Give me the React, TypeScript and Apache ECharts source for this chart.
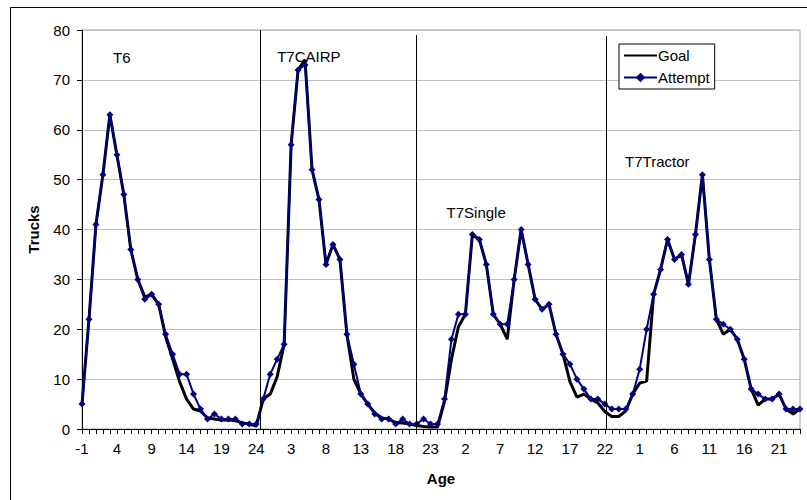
import React, { useEffect, useRef } from 'react';
import * as echarts from 'echarts';

// Each truck type covers ages -1 .. 24
const segments = ['T6', 'T7CAIRP', 'T7Single', 'T7Tractor'];
const ages = [-1, 0, 1, 2, 3, 4, 5, 6, 7, 8, 9, 10, 11, 12, 13, 14, 15, 16, 17, 18, 19, 20, 21, 22, 23, 24];

const goalT6 = [5, 22, 41, 51, 63, 55, 47, 36, 30, 26.5, 27, 25, 18.5, 14, 9.5, 6, 4, 3.6, 2.2, 2, 1.8, 1.8, 1.7, 1.2, 1, 0.6];
const attemptT6 = [5, 22, 41, 51, 63, 55, 47, 36, 30, 26, 27, 25, 19, 15, 11, 11, 7, 4, 2, 3, 2, 2, 2, 1, 1, 1];

const goalT7CAIRP = [6, 7, 10.5, 17, 57, 72, 74, 52, 46, 33, 37, 34, 19, 10, 7, 5, 3.2, 2.2, 2, 1.3, 1.2, 1, 0.7, 0.5, 0.4, 0.4];
const attemptT7CAIRP = [6, 11, 14, 17, 57, 72, 73, 52, 46, 33, 37, 34, 19, 13, 7, 5, 3, 2, 2, 1, 2, 1, 1, 2, 1, 1];

const goalT7Single = [5.5, 14, 20.5, 23, 39, 38, 33, 23, 21, 18, 30, 40, 33, 26, 24, 25, 19, 15, 9.5, 6.4, 7, 6, 5.2, 3.5, 2.5, 2.5];
const attemptT7Single = [6, 18, 23, 23, 39, 38, 33, 23, 21, 21, 30, 40, 33, 26, 24, 25, 19, 15, 13, 10, 8, 6, 6, 5, 4, 4];

const goalT7Tractor = [3.6, 7, 9.2, 9.6, 27, 32, 38, 34, 35, 29, 39, 51, 34, 22, 19, 20, 18, 14, 8, 4.8, 6, 6, 7, 4, 3, 4];
const attemptT7Tractor = [4, 7, 12, 20, 27, 32, 38, 34, 35, 29, 39, 51, 34, 22, 21, 20, 18, 14, 8, 7, 6, 6, 7, 4, 4, 4];

// Hand-drawn divider lines (position in category index units, top value)
const dividerX = [25.6, 48.0, 75.2];
const dividerTop = [80, 79, 78.8];

// Segment title annotations (left index, centre value)
const titleX = [4.45, 28.0, 52.3, 77.9];
const titleY = [74.4, 74.6, 43.5, 53.6];

const FONT = '"Liberation Sans", Arial, sans-serif';

const goal = [...goalT6, ...goalT7CAIRP, ...goalT7Single, ...goalT7Tractor];
const attempt = [...attemptT6, ...attemptT7CAIRP, ...attemptT7Single, ...attemptT7Tractor];
const N = goal.length;

export default function App() {
  const ref = useRef<HTMLDivElement>(null);

  useEffect(() => {
    if (!ref.current) return;
    const chart = echarts.init(ref.current, null, { renderer: 'svg' });
    const option: any = {
      animation: false,
      backgroundColor: '#fff',
      textStyle: { fontFamily: FONT },
      grid: {
        left: 82,
        right: 7,
        top: 30,
        bottom: 71,
        show: true,
        borderColor: '#a0a0a0',
        borderWidth: 1,
        backgroundColor: 'transparent',
      },
      legend: {
        orient: 'vertical',
        left: 619,
        top: 44,
        itemWidth: 33,
        itemHeight: 12,
        itemGap: 7,
        padding: [4, 5, 4, 4],
        borderColor: '#000',
        borderWidth: 1,
        backgroundColor: '#fff',
        textStyle: { fontSize: 15, color: '#000', fontFamily: FONT, padding: [0, 0, 0, -4] },
        data: [
          { name: 'Goal', itemStyle: { opacity: 0 } },
          { name: 'Attempt' },
        ],
      },
      xAxis: {
        type: 'value',
        min: 0,
        max: N - 1,
        interval: 1,
        name: 'Age',
        nameLocation: 'middle',
        nameGap: 42,
        nameTextStyle: { fontSize: 15, fontWeight: 'bold', color: '#000', fontFamily: FONT },
        axisLine: { show: true, onZero: false, lineStyle: { color: '#000', width: 1 } },
        axisTick: { show: true, length: 5, lineStyle: { color: '#000', width: 1 } },
        axisLabel: {
          fontSize: 15,
          color: '#000',
          margin: 12,
          fontFamily: FONT,
          formatter: (v: number) => (v % 5 === 0 ? String(ages[v % ages.length]) : ''),
        },
        splitLine: { show: false },
      },
      yAxis: {
        type: 'value',
        min: 0,
        max: 80,
        interval: 10,
        name: 'Trucks',
        nameLocation: 'middle',
        nameGap: 41,
        nameTextStyle: { fontSize: 15, fontWeight: 'bold', color: '#000', fontFamily: FONT },
        axisLine: { show: true, lineStyle: { color: '#000', width: 1 } },
        axisTick: { show: true, length: 5, lineStyle: { color: '#000', width: 1 } },
        axisLabel: { fontSize: 15, color: '#000', margin: 12, fontFamily: FONT },
        splitLine: { show: true, lineStyle: { color: '#c0c0c0', width: 1 } },
      },
      series: [
        {
          name: 'Goal',
          type: 'line',
          data: goal.map((v, i) => [i, v]),
          symbol: 'none',
          lineStyle: { color: '#000', width: 3 },
          itemStyle: { color: '#000' },
          z: 2,
          markLine: {
            silent: true,
            symbol: 'none',
            label: { show: false },
            lineStyle: { color: '#000', width: 1, type: 'solid' },
            data: dividerX.map((x, k) => [{ coord: [x, dividerTop[k]] }, { coord: [x, 0] }]),
          },
        },
        {
          name: 'Attempt',
          type: 'line',
          data: attempt.map((v, i) => [i, v]),
          symbol: 'diamond',
          symbolSize: 7,
          showAllSymbol: true,
          lineStyle: { color: '#000080', width: 2 },
          itemStyle: { color: '#000080' },
          z: 3,
        },
      ],
    };
    chart.setOption(option);

    const titles = segments.map((name, k) => {
      const p = chart.convertToPixel({ gridIndex: 0 }, [titleX[k], titleY[k]]) as number[];
      return {
        type: 'text',
        x: p[0],
        y: p[1],
        z: 10,
        style: {
          text: name,
          fill: '#000',
          font: `15px ${FONT}`,
          textAlign: 'left',
          textVerticalAlign: 'middle',
        },
      };
    });

    chart.setOption({
      graphic: [
        {
          type: 'rect',
          shape: { x: 10.5, y: 7.5, width: 900, height: 700 },
          style: { fill: 'none', stroke: '#000', lineWidth: 1 },
          silent: true,
          z: 0,
        },
        ...titles,
      ],
    });

    return () => chart.dispose();
  }, []);

  return (
    <div
      ref={ref}
      style={{ position: 'absolute', left: 0, top: 0, width: 807, height: 500 }}
    />
  );
}
